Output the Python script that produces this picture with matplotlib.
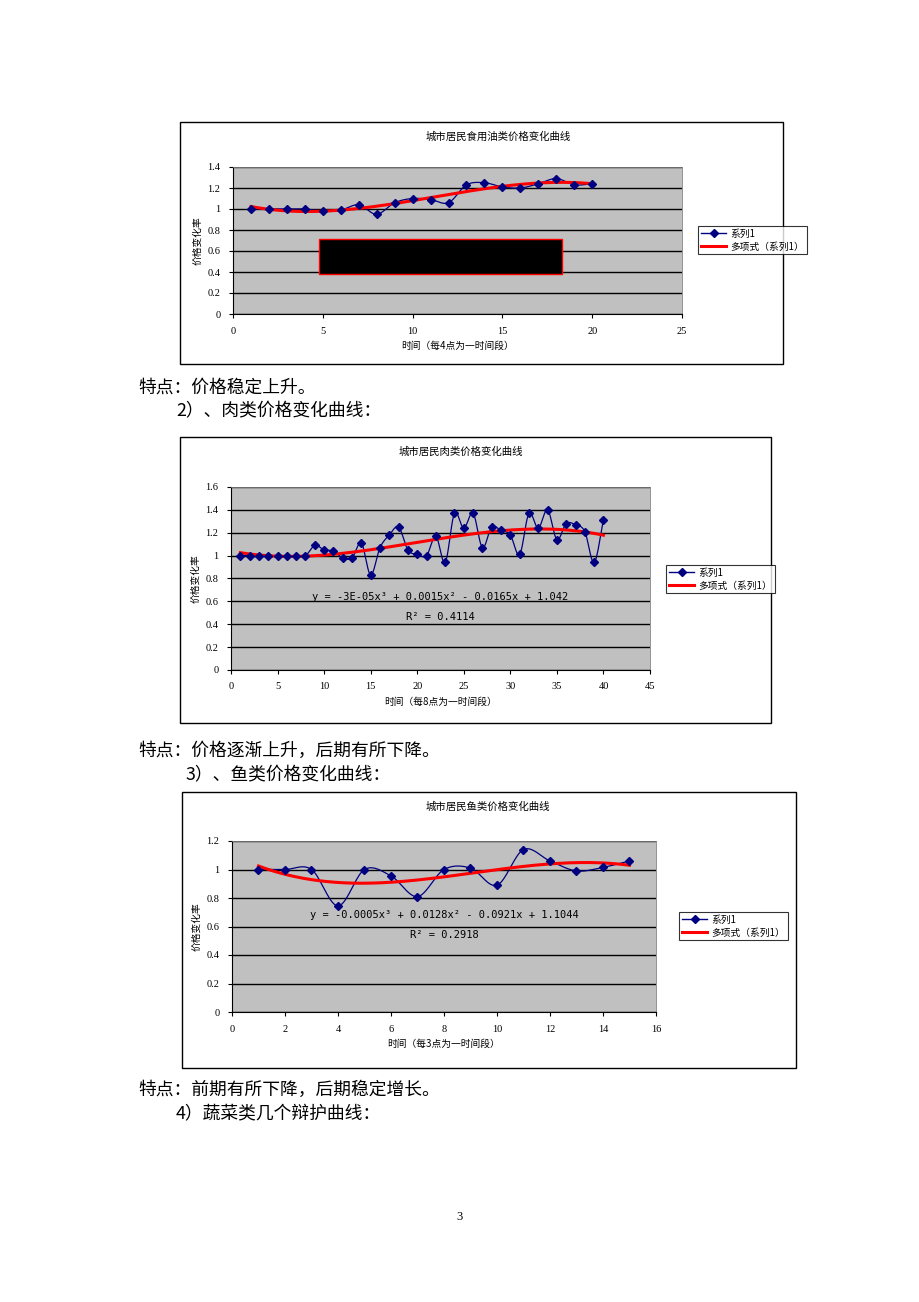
import numpy as np
import matplotlib
matplotlib.use('Agg')
import matplotlib.pyplot as plt
from matplotlib.patches import Rectangle
from matplotlib.lines import Line2D

plt.rcParams['font.family'] = ['Noto Sans CJK SC', 'DejaVu Sans']

W, H = 920, 1302

# ---- data ----
oil_x = list(range(1, 21))
oil_y = [1.0, 1.0, 1.0, 1.0, 0.98, 0.99, 1.04, 0.95, 1.06, 1.10,
         1.09, 1.06, 1.23, 1.25, 1.21, 1.20, 1.24, 1.29, 1.23, 1.24]

meat_x = list(range(1, 41))
meat_y = [1.0, 1.0, 1.0, 1.0, 1.0, 1.0, 1.0, 1.0, 1.09, 1.05,
          1.04, 0.98, 0.98, 1.11, 0.83, 1.07, 1.18, 1.25, 1.05, 1.01,
          1.0, 1.17, 0.94, 1.37, 1.24, 1.37, 1.07, 1.25, 1.22, 1.18,
          1.01, 1.37, 1.24, 1.40, 1.14, 1.28, 1.27, 1.21, 0.94, 1.31]

fish_x = list(range(1, 16))
fish_y = [1.0, 1.0, 1.0, 0.745, 1.0, 0.955, 0.81, 1.0, 1.01, 0.89,
          1.14, 1.06, 0.99, 1.015, 1.06]

titles = ['城市居民食用油类价格变化曲线', '城市居民肉类价格变化曲线', '城市居民鱼类价格变化曲线']
xlabels = ['时间（每4点为一时间段）', '时间（每8点为一时间段）', '时间（每3点为一时间段）']
ylabel = '价格变化率'
series_name = '系列1'
trend_name = '多项式（系列1）'
equations = [None,
             ('y = -3E-05x³ + 0.0015x² - 0.0165x + 1.042', 'R² = 0.4114'),
             ('y = -0.0005x³ + 0.0128x² - 0.0921x + 1.1044', 'R² = 0.2918')]

NAVY = '#000080'
GRAY = '#c0c0c0'
NUMFONT = ['Liberation Serif', 'DejaVu Serif']
MONO = ['DejaVu Sans Mono', 'DejaVu Sans']


def px_rect(x0, y0, x1, y1):
    return [x0 / W, 1 - y1 / H, (x1 - x0) / W, (y1 - y0) / H]


def smooth(x, y, n=20):
    # Catmull-Rom path through the points, like Excel's smoothed line
    x = np.asarray(x, float)
    y = np.asarray(y, float)
    px = np.concatenate([[2 * x[0] - x[1]], x, [2 * x[-1] - x[-2]]])
    py = np.concatenate([[2 * y[0] - y[1]], y, [2 * y[-1] - y[-2]]])
    sx, sy = [], []
    t = np.linspace(0, 1, n, endpoint=False)
    for i in range(1, len(px) - 2):
        for p, out in ((px, sx), (py, sy)):
            p0, p1, p2, p3 = p[i - 1], p[i], p[i + 1], p[i + 2]
            out.extend(0.5 * (2 * p1 + (-p0 + p2) * t
                              + (2 * p0 - 5 * p1 + 4 * p2 - p3) * t ** 2
                              + (-p0 + 3 * p1 - 3 * p2 + p3) * t ** 3))
    sx.append(x[-1])
    sy.append(y[-1])
    return np.array(sx), np.array(sy)


fig = plt.figure(figsize=(W / 100, H / 100), dpi=100)


def chart(box, plot, legend_box, title_x, eq_pos, x, y, ymax, ystep, xmax, xstep, idx):
    # outer chart frame
    fig.patches.append(Rectangle((box[0] / W, 1 - box[3] / H),
                                 (box[2] - box[0]) / W, (box[3] - box[1]) / H,
                                 transform=fig.transFigure, fill=False,
                                 edgecolor='black', linewidth=1.0))
    fig.text(title_x / W, 1 - (box[1] + 15) / H, titles[idx],
             ha='center', va='center', fontsize=7.5)

    ax = fig.add_axes(px_rect(*plot))
    ax.set_facecolor(GRAY)
    ax.set_xlim(0, xmax)
    ax.set_ylim(0, ymax)
    ax.set_xticks(np.arange(0, xmax + 0.01, xstep))
    ax.set_yticks(np.round(np.arange(0, ymax + 0.001, ystep), 2))
    ax.set_xticklabels(['%g' % v for v in ax.get_xticks()], family=NUMFONT, fontsize=7.5)
    ax.set_yticklabels(['%g' % v for v in ax.get_yticks()], family=NUMFONT, fontsize=7.5)
    ax.yaxis.grid(True, color='black', linewidth=1.0)
    ax.set_axisbelow(True)
    ax.tick_params(length=3, width=0.8, pad=6)
    for s in ('top', 'right'):
        ax.spines[s].set_color('#808080')
        ax.spines[s].set_linewidth(0.6)
    ax.set_xlabel(xlabels[idx], fontsize=7, labelpad=4)
    ax.set_ylabel(ylabel, fontsize=7, labelpad=4)

    sx, sy = smooth(x, y)
    ax.plot(sx, sy, color=NAVY, linewidth=0.9, zorder=3)
    ax.plot(x, y, linestyle='none', marker='D', markersize=4,
            color=NAVY, zorder=4)

    coef = np.polyfit(x, y, 3)
    tx = np.linspace(x[0], x[-1], 200)
    ax.plot(tx, np.polyval(coef, tx), color='red', linewidth=2.2, zorder=3.5)

    if equations[idx] is not None:
        eq, r2 = equations[idx]
        ax.text(0.5, eq_pos[0], eq, transform=ax.transAxes, ha='center', va='center',
                fontsize=7.5, family=MONO, zorder=5)
        ax.text(0.5, eq_pos[1], r2, transform=ax.transAxes, ha='center', va='center',
                fontsize=7.5, family=MONO, zorder=5)

    handles = [Line2D([], [], color=NAVY, linewidth=1.0, marker='D', markersize=4),
               Line2D([], [], color='red', linewidth=2.2)]
    lx0, ly0, lx1, ly1 = legend_box
    leg = fig.legend(handles, [series_name, trend_name], loc='center left',
                     bbox_to_anchor=(lx0 / W, 1 - (ly0 + ly1) / 2 / H),
                     fontsize=7, frameon=True, fancybox=False,
                     borderpad=0.3, handlelength=2.6, labelspacing=0.3,
                     handletextpad=0.4, borderaxespad=0)
    leg.get_frame().set_edgecolor('black')
    leg.get_frame().set_linewidth(0.8)
    return ax


ax1 = chart((180, 122, 783, 364), (233, 167, 682, 314), (698, 225, 807, 255), 498, None,
            oil_x, oil_y, 1.4, 0.2, 25, 5, 0)
# covered-up equation box
ax1.add_patch(Rectangle((0.192, 0.272), 0.54, 0.238, transform=ax1.transAxes,
                        facecolor='black', edgecolor='red', linewidth=1.0, zorder=6))

chart((180, 437, 771, 723), (231, 487, 650, 670), (666, 563, 768, 595), 461, (0.40, 0.29),
      meat_x, meat_y, 1.6, 0.2, 45, 5, 1)
chart((182, 792, 796, 1068), (232, 841, 656, 1012), (679, 909, 792, 943), 488, (0.567, 0.45),
      fish_x, fish_y, 1.2, 0.2, 16, 2, 2)

body = [('特点：价格稳定上升。', 138, 388),
        ('2）、肉类价格变化曲线：', 176, 411),
        ('特点：价格逐渐上升，后期有所下降。', 138, 751),
        ('3）、鱼类价格变化曲线：', 186, 775),
        ('特点：前期有所下降，后期稳定增长。', 138, 1090),
        ('4）蔬菜类几个辩护曲线：', 176, 1114)]
for txt, tx_, ty_ in body:
    fig.text(tx_ / W, 1 - ty_ / H, txt, ha='left', va='center', fontsize=12.8)

fig.text(460 / W, 1 - 1217 / H, '3', ha='center', va='center', fontsize=9,
         family=NUMFONT)

fig.savefig('out.png', dpi=100)
